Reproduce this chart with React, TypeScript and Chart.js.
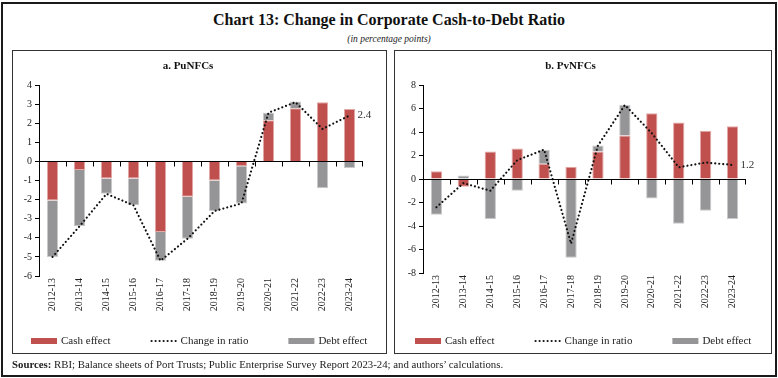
import React, { useEffect, useRef } from 'react';
import { Chart, registerables } from 'chart.js';

Chart.register(...registerables);

const categories = ['2012-13', '2013-14', '2014-15', '2015-16', '2016-17', '2017-18', '2018-19', '2019-20', '2020-21', '2021-22', '2022-23', '2023-24'];

const puCash = [-2.05, -0.45, -0.9, -0.9, -3.7, -1.85, -1.0, -0.25, 2.15, 2.78, 3.1, 2.75];
const puDebt = [-2.95, -2.95, -0.8, -1.4, -1.5, -2.2, -1.6, -1.95, 0.4, 0.35, -1.4, -0.35];
const puRatio = [-5.0, -3.4, -1.7, -2.3, -5.2, -4.05, -2.6, -2.2, 2.55, 3.1, 1.7, 2.4];

const pvCash = [0.65, -0.65, 2.35, 2.6, 1.3, 1.05, 2.35, 3.7, 5.6, 4.8, 4.1, 4.5];
const pvDebt = [-3.05, 0.3, -3.4, -1.0, 1.2, -6.7, 0.5, 2.6, -1.65, -3.8, -2.7, -3.4];
const pvRatio = [-2.4, -0.35, -1.0, 1.6, 2.5, -5.5, 2.85, 6.3, 3.9, 1.0, 1.4, 1.2];

const puTicks = { min: -6, max: 4, step: 1 };
const pvTicks = { min: -8, max: 8, step: 2 };

const legendLabels = ['Cash effect', 'Change in ratio', 'Debt effect'];

const FONT = '"Liberation Serif", "Times New Roman", serif';
const RED = '#C0504D';
const RED_EDGE = '#E2A9A7';
const GREY = '#959597';
const GREY_EDGE = '#C9C9CB';
const DOTS = [0.01, 4];

const zeroLinePlugin = {
  id: 'zeroLine',
  afterDatasetsDraw(chart: any) {
    const { ctx, chartArea, scales } = chart;
    const x = scales.x;
    const y = scales.y;
    const y0 = Math.round(y.getPixelForValue(0)) + 0.5;
    ctx.save();
    ctx.strokeStyle = '#000';
    ctx.lineWidth = 1;
    ctx.beginPath();
    ctx.moveTo(chartArea.left, y0);
    ctx.lineTo(chartArea.right, y0);
    const n = chart.data.labels.length;
    for (let i = 0; i < n; i++) {
      const xx = i < n - 1
        ? Math.round((x.getPixelForValue(i) + x.getPixelForValue(i + 1)) / 2) + 0.5
        : Math.round(chartArea.right) - 0.5;
      ctx.moveTo(xx, y0);
      ctx.lineTo(xx, y0 + 5);
    }
    ctx.stroke();
    ctx.restore();
  },
};

const lastLabelPlugin = {
  id: 'lastLabel',
  afterDatasetsDraw(chart: any) {
    const meta = chart.getDatasetMeta(1);
    const data = chart.data.datasets[1].data as number[];
    const pt = meta.data[data.length - 1];
    if (!pt) return;
    const { ctx } = chart;
    ctx.save();
    ctx.font = `11px ${FONT}`;
    ctx.fillStyle = '#333';
    ctx.textAlign = 'left';
    ctx.textBaseline = 'middle';
    ctx.fillText(data[data.length - 1].toFixed(1), pt.x + 8, pt.y);
    ctx.restore();
  },
};

function makeLegendPlugin(yCenter: number) {
  return {
    id: 'customLegend',
    afterDraw(chart: any) {
      const { ctx, width } = chart;
      ctx.save();
      ctx.font = `11px ${FONT}`;
      const sets = chart.data.datasets;
      const widths = sets.map((ds: any) => 26 + 4 + ctx.measureText(ds.label).width);
      const gap = 40;
      const total = widths.reduce((a: number, b: number) => a + b, 0) + gap * (sets.length - 1);
      let x = Math.round((width - total) / 2);
      sets.forEach((ds: any, i: number) => {
        if (ds.type === 'line') {
          ctx.save();
          ctx.strokeStyle = ds.borderColor;
          ctx.lineWidth = ds.borderWidth;
          ctx.lineCap = 'round';
          ctx.setLineDash(DOTS);
          ctx.beginPath();
          ctx.moveTo(x + 1, yCenter);
          ctx.lineTo(x + 26, yCenter);
          ctx.stroke();
          ctx.restore();
        } else {
          ctx.fillStyle = ds.backgroundColor;
          ctx.fillRect(x, yCenter - 3, 26, 6);
        }
        ctx.fillStyle = '#222';
        ctx.textAlign = 'left';
        ctx.textBaseline = 'middle';
        ctx.fillText(ds.label, x + 30, yCenter);
        x += widths[i] + gap;
      });
      ctx.restore();
    },
  };
}

function makeConfig(title: string, cash: number[], debt: number[], ratio: number[], t: { min: number; max: number; step: number }, yWidth: number, padRight: number, padBottom: number): any {
  return {
    type: 'bar',
    data: {
      labels: categories,
      datasets: [
        { type: 'bar', label: legendLabels[0], data: cash, backgroundColor: RED, borderColor: RED_EDGE, borderWidth: 1, barPercentage: 0.42, categoryPercentage: 1, order: 1 },
        {
          type: 'line', label: legendLabels[1], data: ratio, borderColor: '#111', borderWidth: 2.2,
          borderDash: DOTS, borderCapStyle: 'round', pointRadius: 0, tension: 0, fill: false, order: 0,
        },
        { type: 'bar', label: legendLabels[2], data: debt, backgroundColor: GREY, borderColor: GREY_EDGE, borderWidth: 1, barPercentage: 0.42, categoryPercentage: 1, order: 2 },
      ],
    },
    options: {
      responsive: false,
      animation: false,
      layout: { padding: { left: 0, right: padRight, top: 0, bottom: padBottom } },
      scales: {
        x: {
          stacked: true,
          offset: true,
          grid: { display: false, drawTicks: false },
          border: { display: false },
          ticks: { minRotation: 90, maxRotation: 90, padding: 2, color: '#222', font: { family: FONT, size: 10 }, autoSkip: false },
          afterFit: (s: any) => { s.height = 50; },
        },
        y: {
          stacked: true,
          min: t.min,
          max: t.max,
          grid: { display: true, drawOnChartArea: false, drawTicks: true, tickLength: 4, color: '#000' },
          border: { display: true, color: '#000', width: 1 },
          ticks: { stepSize: t.step, padding: 3, color: '#222', font: { family: FONT, size: 10 } },
          afterFit: (s: any) => { s.width = yWidth; },
        },
      },
      plugins: {
        title: { display: true, text: title, color: '#111', font: { family: FONT, size: 11, weight: 'bold' }, padding: { top: 8.4, bottom: 12.4 } },
        tooltip: { enabled: false },
        legend: { display: false },
      },
    },
    plugins: [zeroLinePlugin, lastLabelPlugin, makeLegendPlugin(290)],
  };
}

function Panel(props: { left: number; width: number; config: any; canvasW: number }) {
  const ref = useRef<HTMLCanvasElement>(null);
  useEffect(() => {
    if (!ref.current) return;
    const chart = new Chart(ref.current, props.config);
    return () => chart.destroy();
  }, []);
  return (
    <>
      <canvas ref={ref} width={props.canvasW} height={302} style={{ position: 'absolute', left: props.left + 1, top: 51, width: props.canvasW, height: 302, display: 'block' }} />
      <div style={{ position: 'absolute', left: props.left, top: 50, width: props.width, height: 304, boxSizing: 'border-box', border: '1px solid #333', pointerEvents: 'none' }} />
    </>
  );
}

export default function App() {
  const leftCfg = makeConfig('a. PuNFCs', puCash, puDebt, puRatio, puTicks, 26, 23, 27);
  const rightCfg = makeConfig('b. PvNFCs', pvCash, pvDebt, pvRatio, pvTicks, 28, 25, 30);
  return (
    <div style={{ position: 'absolute', left: 0, top: 0, width: 778, height: 378, background: '#fff', fontFamily: FONT, overflow: 'hidden' }}>
      <div style={{ position: 'absolute', left: 1, top: 2, width: 776, height: 375, boxSizing: 'border-box', border: '2px solid #1a1a1a' }} />
      <div style={{ position: 'absolute', left: 0, top: 10, width: 778, textAlign: 'center', fontSize: 16, fontWeight: 'bold', color: '#111', lineHeight: '20px' }}>
        Chart 13: Change in Corporate Cash-to-Debt Ratio
      </div>
      <div style={{ position: 'absolute', left: 0, top: 32, width: 778, textAlign: 'center', fontSize: 9.5, fontStyle: 'italic', color: '#222', lineHeight: '14px' }}>
        (in percentage points)
      </div>
      <Panel left={12} width={375} config={leftCfg} canvasW={373} />
      <Panel left={394} width={378} config={rightCfg} canvasW={376} />
      <div style={{ position: 'absolute', left: 12, top: 357, fontSize: 10.8, color: '#222', lineHeight: '14px', whiteSpace: 'nowrap' }}>
        <b>Sources:</b> RBI; Balance sheets of Port Trusts; Public Enterprise Survey Report 2023-24; and authors’ calculations.
      </div>
    </div>
  );
}
